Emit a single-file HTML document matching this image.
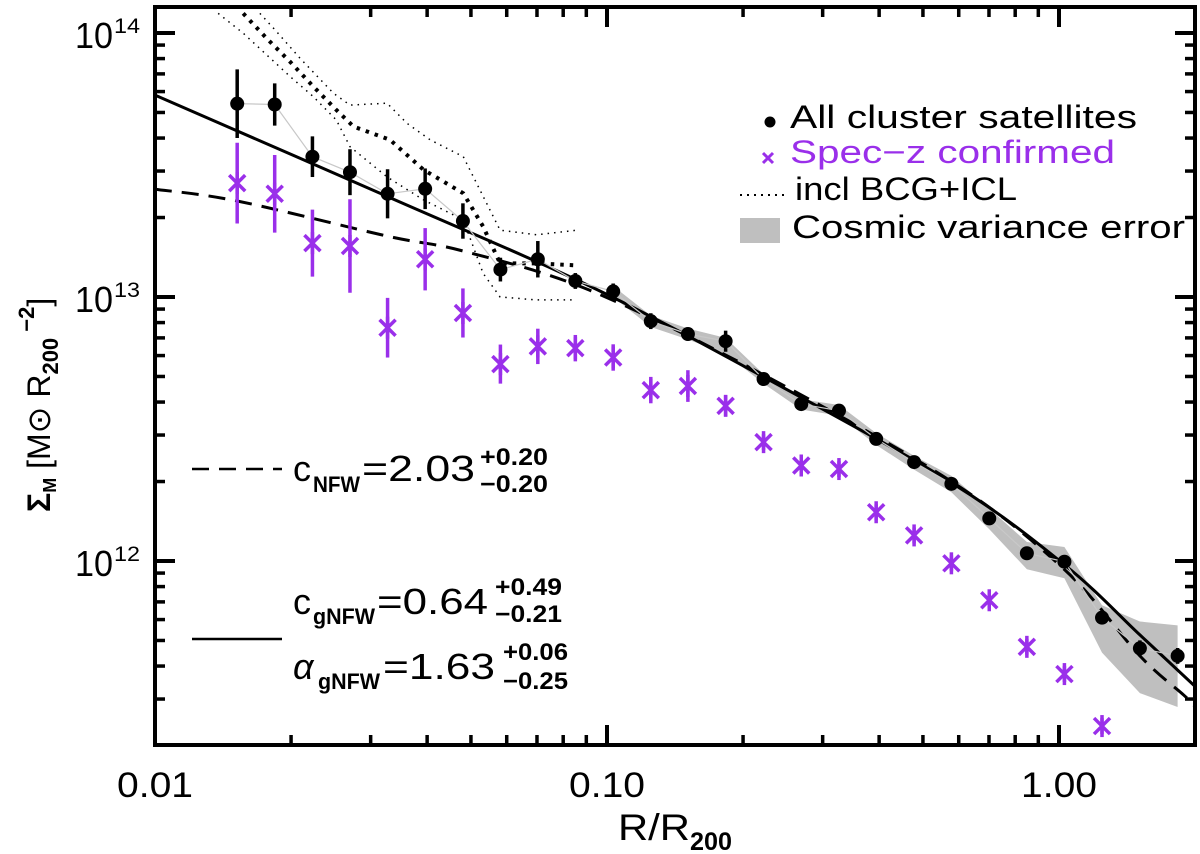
<!DOCTYPE html>
<html><head><meta charset="utf-8"><style>
html,body{margin:0;padding:0;background:#fff;}
svg{display:block;font-family:"Liberation Sans","DejaVu Sans",sans-serif;}
</style></head><body>
<svg id="chart" width="1200" height="854" viewBox="0 0 1200 854" xmlns="http://www.w3.org/2000/svg">
<g id="band"></g>
<g id="dotted"></g>
<g id="models"></g>
<g id="points"></g>
<g id="axes"></g>

<g font-size="32">
  <circle cx="770" cy="122" r="5.5" fill="#000"/>
  <text x="790" y="128" textLength="347" lengthAdjust="spacingAndGlyphs">All cluster satellites</text>
  <g stroke="#9a2fea" stroke-width="3">
    <line x1="763" y1="153" x2="773" y2="163"/><line x1="773" y1="153" x2="763" y2="163"/>
  </g>
  <text x="790" y="163" fill="#9a2fea" textLength="325" lengthAdjust="spacingAndGlyphs">Spec−z confirmed</text>
  <line x1="740" y1="195" x2="786" y2="195" stroke="#000" stroke-width="2" stroke-dasharray="2 5"/>
  <text x="795" y="200" textLength="222" lengthAdjust="spacingAndGlyphs">incl BCG+ICL</text>
  <rect x="740" y="218" width="40" height="25" fill="#bfbfbf"/>
  <text x="792" y="238" textLength="393" lengthAdjust="spacingAndGlyphs">Cosmic variance error</text>
</g>

<g>
  <line x1="192" y1="469" x2="282" y2="469" stroke="#000" stroke-width="2.5" stroke-dasharray="17 10"/>
  <text y="481" font-size="36"><tspan x="293">c</tspan><tspan x="313" y="492" font-size="22" font-weight="bold" textLength="47" lengthAdjust="spacingAndGlyphs">NFW</tspan><tspan x="362" y="481" textLength="113" lengthAdjust="spacingAndGlyphs">=2.03</tspan></text>
  <text x="480" y="465" font-size="24" font-weight="bold" textLength="68" lengthAdjust="spacingAndGlyphs">+0.20</text>
  <text x="480" y="492" font-size="24" font-weight="bold" textLength="68" lengthAdjust="spacingAndGlyphs">−0.20</text>
</g>
<g>
  <line x1="192" y1="639" x2="282" y2="639" stroke="#000" stroke-width="2.5"/>
  <text y="614" font-size="36"><tspan x="293">c</tspan><tspan x="313" y="624" font-size="22" font-weight="bold" textLength="62" lengthAdjust="spacingAndGlyphs">gNFW</tspan><tspan x="377" y="614" textLength="111" lengthAdjust="spacingAndGlyphs">=0.64</tspan></text>
  <text x="495" y="595" font-size="24" font-weight="bold" textLength="67" lengthAdjust="spacingAndGlyphs">+0.49</text>
  <text x="495" y="622" font-size="24" font-weight="bold" textLength="67" lengthAdjust="spacingAndGlyphs">−0.21</text>
  <text y="679" font-size="36"><tspan x="293" font-style="italic">α</tspan><tspan x="318" y="689" font-size="22" font-weight="bold" textLength="62" lengthAdjust="spacingAndGlyphs">gNFW</tspan><tspan x="383" y="679" textLength="112" lengthAdjust="spacingAndGlyphs">=1.63</tspan></text>
  <text x="503" y="660" font-size="24" font-weight="bold" textLength="65" lengthAdjust="spacingAndGlyphs">+0.06</text>
  <text x="503" y="689" font-size="24" font-weight="bold" textLength="65" lengthAdjust="spacingAndGlyphs">−0.25</text>
</g>

<text y="840" font-size="37"><tspan x="618" textLength="72" lengthAdjust="spacingAndGlyphs">R/R</tspan><tspan x="690" dy="10" font-size="25" font-weight="bold" textLength="42" lengthAdjust="spacingAndGlyphs">200</tspan></text>
<text transform="translate(50,512) rotate(-90)" font-size="32"><tspan font-weight="bold">Σ</tspan><tspan font-size="18" font-weight="bold" dy="6">M</tspan><tspan dy="-6"> [M⊙ R</tspan><tspan font-size="22" font-weight="bold" dy="8">200</tspan><tspan font-size="22" font-weight="bold" dy="-24"> −2</tspan><tspan dy="16">]</tspan></text>
</svg>
<script>
const xVals = [0.0152,0.0184,0.0223,0.0270,0.0327,0.0396,0.0480,0.0581,0.0703,0.0851,0.1032,0.125,0.151,0.183,0.222,0.269,0.326,0.394,0.478,0.578,0.701,0.849,1.028,1.245,1.51,1.83];
const allSat = [5.4e13,5.36e13,3.4e13,2.97e13,2.46e13,2.57e13,1.94e13,1.27e13,1.39e13,1.15e13,1.05e13,8.1e12,7.24e12,6.8e12,4.89e12,3.93e12,3.71e12,2.90e12,2.37e12,1.96e12,1.45e12,1.07e12,9.94e11,6.1e11,4.67e11,4.37e11];
const allSatErr = [0.13,0.08,0.077,0.087,0.093,0.077,0.067,0.045,0.069,0.03,0.03,0.03,0.025,0.04,0.02,0.02,0.02,0.02,0.02,0.02,0.02,0.02,0.02,0.02,0.03,0.03];
const specZ = [2.70e13,2.46e13,1.60e13,1.56e13,7.65e12,1.39e13,8.7e12,5.57e12,6.5e12,6.4e12,5.9e12,4.44e12,4.6e12,3.87e12,2.82e12,2.30e12,2.23e12,1.53e12,1.25e12,9.8e11,7.1e11,4.73e11,3.73e11,2.37e11];
const specZErr = [0.153,0.147,0.127,0.177,0.113,0.118,0.093,0.074,0.067,0.05,0.05,0.05,0.06,0.04,0.03,0.03,0.03,0.03,0.03,0.03,0.03,0.03,0.03,0.03];
const bandX = [0.1032,0.125,0.151,0.183,0.222,0.269,0.326,0.394,0.478,0.578,0.701,0.849,1.028,1.245,1.51,1.83];
const bandHi = [1.10e13,8.5e12,7.6e12,7.0e12,5.1e12,4.1e12,3.9e12,3.05e12,2.5e12,2.1e12,1.58e12,1.18e12,1.13e12,6.8e11,5.9e11,5.7e11];
const bandLo = [1.00e13,7.7e12,6.9e12,6.1e12,4.7e12,3.75e12,3.55e12,2.75e12,2.22e12,1.82e12,1.32e12,9.3e11,8.6e11,4.5e11,3.16e11,2.8e11];
const gnfwX = [0.01,0.0327,0.0916,0.222,0.578,1.03,1.51,2.0];
const gnfwY = [5.82e13,2.40e13,1.10e13,4.98e12,1.98e12,9.66e11,5.25e11,3.35e11];
const nfwX = [0.01,0.0152,0.0327,0.0483,0.0916,0.222,0.578,1.03,1.51,1.89,2.0];
const nfwY = [2.56e13,2.31e13,1.70e13,1.49e13,1.06e13,5.07e12,2.00e12,9.25e11,4.37e11,3.10e11,2.81e11];
const upperX = [0.01706,0.01858,0.02094,0.0248,0.0270,0.0326,0.0361,0.0406,0.0481,0.0580,0.0699,0.0857];
const upperY = [1.186e14,1.012e14,8.02e13,5.92e13,5.33e13,5.42e13,4.55e13,3.94e13,3.40e13,1.79e13,1.72e13,1.79e13];
const thickX = [0.01567,0.01766,0.0199,0.0224,0.0252,0.0275,0.0331,0.0393,0.0481,0.0532,0.0580,0.0699,0.0842];
const thickY = [1.186e14,9.55e13,7.78e13,6.27e13,5.11e13,4.42e13,3.94e13,3.03e13,2.47e13,1.85e13,1.34e13,1.34e13,1.32e13];
const lowerX = [0.0138,0.01567,0.0199,0.0224,0.0252,0.0270,0.0326,0.0393,0.0481,0.0532,0.0580,0.0699,0.0842];
const lowerY = [1.186e14,9.98e13,6.84e13,5.74e13,4.68e13,3.71e13,2.85e13,2.33e13,1.96e13,1.23e13,1.00e13,9.75e12,9.75e12];
const xMajor = [0.01,0.1,1];
const xMajorLabels = ["0.01","0.10","1.00"];
const yMajor = [1e12,1e13,1e14];
const yMajorExp = ["12","13","14"];

const NS="http://www.w3.org/2000/svg";
const L=155,R=1195,T=7,B=745;
function X(v){return 155+452*(Math.log10(v)+2);}
function Y(v){return 297-264*(Math.log10(v)-13);}
function mk(tag,attrs,parent){const e=document.createElementNS(NS,tag);for(const k in attrs)e.setAttribute(k,attrs[k]);parent.appendChild(e);return e;}
function smooth(pts){let d="M"+pts[0][0].toFixed(1)+","+pts[0][1].toFixed(1);
  for(let i=0;i<pts.length-1;i++){const p0=pts[i-1]||pts[i],p1=pts[i],p2=pts[i+1],p3=pts[i+2]||p2;
    const c1=[p1[0]+(p2[0]-p0[0])/6,p1[1]+(p2[1]-p0[1])/6],c2=[p2[0]-(p3[0]-p1[0])/6,p2[1]-(p3[1]-p1[1])/6];
    d+=" C"+c1.map(n=>n.toFixed(1))+" "+c2.map(n=>n.toFixed(1))+" "+p2[0].toFixed(1)+","+p2[1].toFixed(1);}
  return d;}
const svg=document.getElementById('chart');
const defs=mk('defs',{},svg);
const cp=mk('clipPath',{id:'plotclip'},defs);
mk('rect',{x:L,y:T,width:R-L,height:B-T},cp);

const bg=document.getElementById('band');bg.setAttribute('clip-path','url(#plotclip)');
let bp=bandX.map((x,i)=>X(x).toFixed(1)+","+Y(bandHi[i]).toFixed(1));
for(let i=bandX.length-1;i>=0;i--)bp.push(X(bandX[i]).toFixed(1)+","+Y(bandLo[i]).toFixed(1));
const band=mk('polygon',{points:bp.join(" "),fill:"#bfbfbf"},bg);



const dg=document.getElementById('dotted');dg.setAttribute('clip-path','url(#plotclip)');
[[upperX,upperY,1.5,"1.5 5","bcg-icl-upper"],[thickX,thickY,4,"3.5 6","bcg-icl-main"],[lowerX,lowerY,1.5,"1.5 5","bcg-icl-lower"]].forEach(s=>{
  const pts=s[0].map((x,i)=>X(x).toFixed(1)+","+Y(s[1][i]).toFixed(1)).join(" ");
  const pl=mk('polyline',{points:pts,fill:"none",stroke:"#000","stroke-width":s[2],"stroke-dasharray":s[3]},dg);
  
  
});

const mg=document.getElementById('models');mg.setAttribute('clip-path','url(#plotclip)');
const gl=mk('path',{d:smooth(gnfwX.map((x,i)=>[X(x),Y(gnfwY[i])])),fill:"none",stroke:"#000","stroke-width":3},mg);


const nl=mk('path',{d:smooth(nfwX.map((x,i)=>[X(x),Y(nfwY[i])])),fill:"none",stroke:"#000","stroke-width":3,"stroke-dasharray":"17 10"},mg);



const pg=document.getElementById('points');
const conn=mk('polyline',{points:xVals.map((x,i)=>X(x).toFixed(1)+","+Y(allSat[i]).toFixed(1)).join(" "),fill:"none",stroke:"#c8c8c8","stroke-width":1.2},pg);


specZ.forEach((v,i)=>{
  const x=X(xVals[i]),y=Y(v),e=specZErr[i]*264;
  const g=mk('g',{stroke:"#9a2fea","stroke-width":3.5},pg);
  
  
  mk('line',{x1:x,y1:y-e,x2:x,y2:y+e},g);
  mk('line',{x1:x-8,y1:y-8,x2:x+8,y2:y+8},g);
  mk('line',{x1:x+8,y1:y-8,x2:x-8,y2:y+8},g);
  mk('line',{x1:x,y1:y-11,x2:x,y2:y+11},g);
});
allSat.forEach((v,i)=>{
  const x=X(xVals[i]),y=Y(v),e=allSatErr[i]*264;
  const g=mk('g',{},pg);
  
  
  mk('line',{x1:x,y1:y-e,x2:x,y2:y+e,stroke:"#000","stroke-width":3.5},g);
  mk('circle',{cx:x,cy:y,r:7,fill:"#000"},g);
});

const ag=document.getElementById('axes');
const frame=mk('rect',{x:L,y:T,width:R-L,height:B-T,fill:"none",stroke:"#000","stroke-width":4},ag);


function tick(x1,y1,x2,y2,w){mk('line',{x1:x1,y1:y1,x2:x2,y2:y2,stroke:"#000","stroke-width":w},ag);}
for(let d=0.01;d<2;d*=10){for(let m=1;m<10;m++){const v=d*m;if(v>2.0001)break;const px=X(v);if(px>R-1)break;const len=m===1?20:10,w=m===1?4:3.5;
  tick(px,B,px,B-len,w);tick(px,T,px,T+len,w);}}
for(let d=1e11;d<2e14;d*=10){for(let m=1;m<10;m++){const v=d*m;const py=Y(v);if(py<T+1||py>B-1)continue;const len=m===1?20:10,w=m===1?4:3.5;
  tick(L,py,L+len,py,w);tick(R,py,R-len,py,w);}}
xMajor.forEach((v,i)=>{
  const t=mk('text',{x:X(v)-38,y:797,"font-size":35,textLength:76,lengthAdjust:"spacingAndGlyphs"},ag);
  
  
  t.textContent=xMajorLabels[i];
});
yMajor.forEach((v,i)=>{
  const y=Y(v);
  const t=mk('text',{y:y+15,"font-size":36},ag);
  
  
  const a=mk('tspan',{x:75,textLength:38,lengthAdjust:"spacingAndGlyphs"},t);
  a.textContent="10";
  const s=mk('tspan',{x:114,dy:-15,"font-size":21,textLength:26,lengthAdjust:"spacingAndGlyphs"},t);
  s.textContent=yMajorExp[i];
});
</script>
</body></html>
